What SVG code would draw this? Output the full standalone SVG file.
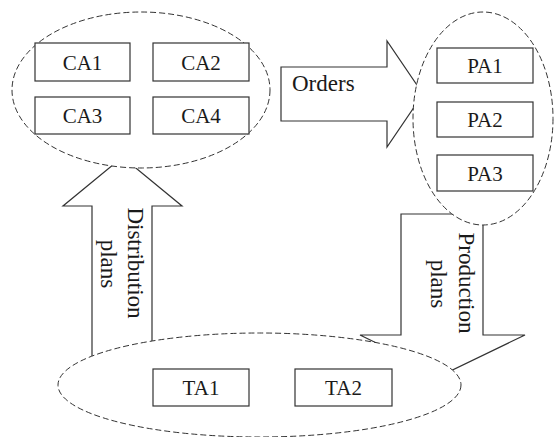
<svg xmlns="http://www.w3.org/2000/svg" width="554" height="437" viewBox="0 0 554 437">
<style>
.arrow{fill:#fff;stroke:#333;stroke-width:1.2}
.cluster{fill:#fff;stroke:#333;stroke-width:1;stroke-dasharray:6 3}
.box{fill:#fff;stroke:#333;stroke-width:1.2}
text{font-family:"Liberation Serif","Times New Roman",serif;fill:#1a1a1a}
.lbl{font-size:21px;text-anchor:middle}
.alb{font-size:23px}
.rot{font-size:23px;text-anchor:middle}
</style>
<rect width="554" height="437" fill="#fff"/>
<g id="connectors">
  <g id="orders">
    <polygon class="arrow" points="281,67 387,67 387,41 423,94 387,147 387,121 281,121"/>
    <text class="alb" x="292" y="91">Orders</text>
  </g>
  <g id="distribution-plans">
    <polygon class="arrow" points="92,362 92,206 63,206 122.5,157 182,206 152,206 152,362"/>
    <text class="rot" transform="translate(128,263) rotate(90)">Distribution</text>
    <text class="rot" transform="translate(100.5,264) rotate(90)">plans</text>
  </g>
  <g id="production-plans">
    <polygon class="arrow" points="401,214 483,214 483,335 525,335 442,375 360,335 401,335"/>
    <text class="rot" transform="translate(459,283) rotate(90)">Production</text>
    <text class="rot" transform="translate(431,284) rotate(90)">plans</text>
  </g>
</g>
<g id="CA">
  <ellipse class="cluster" cx="141" cy="90" rx="129" ry="78"/>
  <g id="CA1"><rect class="box" x="35" y="43" width="95" height="38"/><text class="lbl" x="82.5" y="69.5">CA1</text></g>
  <g id="CA2"><rect class="box" x="153" y="43" width="96" height="38"/><text class="lbl" x="201" y="69.5">CA2</text></g>
  <g id="CA3"><rect class="box" x="35" y="97" width="95" height="37"/><text class="lbl" x="82.5" y="123">CA3</text></g>
  <g id="CA4"><rect class="box" x="153" y="97" width="96" height="37"/><text class="lbl" x="201" y="123">CA4</text></g>
</g>
<g id="PA">
  <ellipse class="cluster" cx="483" cy="118.5" rx="70" ry="106.5"/>
  <g id="PA1"><rect class="box" x="437" y="48" width="96" height="35"/><text class="lbl" x="485" y="73">PA1</text></g>
  <g id="PA2"><rect class="box" x="437" y="102" width="96" height="35"/><text class="lbl" x="485" y="127">PA2</text></g>
  <g id="PA3"><rect class="box" x="437" y="155" width="96" height="36"/><text class="lbl" x="485" y="180.5">PA3</text></g>
</g>
<g id="TA">
  <ellipse class="cluster" cx="259.5" cy="385" rx="201.5" ry="52"/>
  <g id="TA1"><rect class="box" x="153" y="369" width="96" height="37"/><text class="lbl" x="201" y="395">TA1</text></g>
  <g id="TA2"><rect class="box" x="295" y="369" width="97" height="37"/><text class="lbl" x="343.5" y="395">TA2</text></g>
</g>
</svg>
